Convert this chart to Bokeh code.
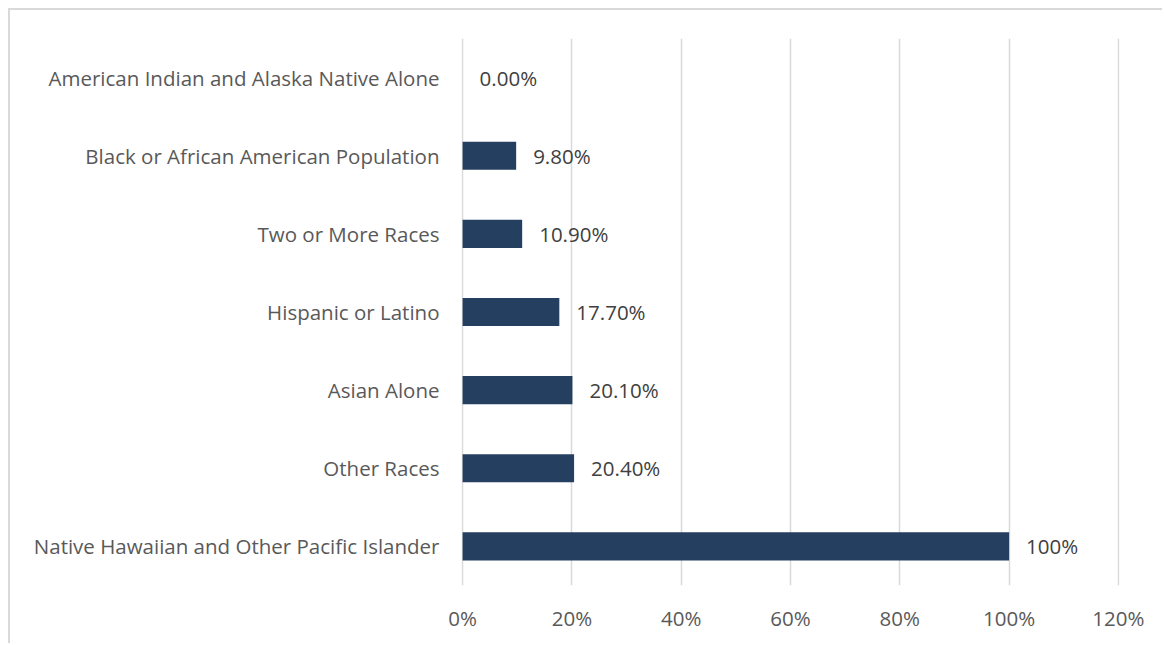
from bokeh.plotting import figure
from bokeh.models import FactorRange, FixedTicker, NumeralTickFormatter, ColumnDataSource, Range1d
from bokeh.core.properties import value
from bokeh.embed import file_html
from bokeh.resources import INLINE

# Data (top to bottom as shown)
categories = [
    "American Indian and Alaska Native Alone",
    "Black or African American Population",
    "Two or More Races",
    "Hispanic or Latino",
    "Asian Alone",
    "Other Races",
    "Native Hawaiian and Other Pacific Islander",
]
values = [0.0, 0.098, 0.109, 0.177, 0.201, 0.204, 1.0]
value_labels = ["0.00%", "9.80%", "10.90%", "17.70%", "20.10%", "20.40%", "100%"]
x_ticks = [0, 0.2, 0.4, 0.6, 0.8, 1.0, 1.2]

FONT = "Open Sans"
TEXT_COLOR = "#595959"
LABEL_COLOR = "#404040"
BAR_COLOR = "#243F60"
FS = "20.5px"

source = ColumnDataSource(dict(cat=categories, val=values, lab=value_labels))

p = figure(
    width=1154, height=635,
    y_range=FactorRange(factors=list(reversed(categories))),
    x_range=Range1d(-0.002, 1.202),
    output_backend="svg", toolbar_location=None,
    min_border_left=451, min_border_right=45, min_border_top=28, min_border_bottom=60,
)
p.styles = {"border-left": "2px solid #d9d9d9", "border-top": "2px solid #d9d9d9",
            "margin-left": "8px", "margin-top": "8px"}

p.hbar(y="cat", right="val", left=0, height=0.36, source=source,
       fill_color=BAR_COLOR, line_color=None)
p.text(x="val", y="cat", text="lab", source=source, x_offset=17,
       text_baseline="middle", text_align="left", text_color=LABEL_COLOR,
       text_font=value(FONT), text_font_size=FS)

p.outline_line_color = None
p.ygrid.grid_line_color = None
p.xgrid.grid_line_color = "#d9d9d9"
p.xgrid.grid_line_width = 1.5

p.xaxis.ticker = FixedTicker(ticks=x_ticks)
p.xaxis.formatter = NumeralTickFormatter(format="0%")
for ax in (p.xaxis[0], p.yaxis[0]):
    ax.axis_line_color = None
    ax.major_tick_line_color = None
    ax.minor_tick_line_color = None
    ax.major_label_text_color = TEXT_COLOR
    ax.major_label_text_font = FONT
    ax.major_label_text_font_size = FS
p.xaxis.major_label_standoff = 12
p.yaxis.major_label_standoff = 16

open("out.html", "w").write(file_html(p, INLINE))
